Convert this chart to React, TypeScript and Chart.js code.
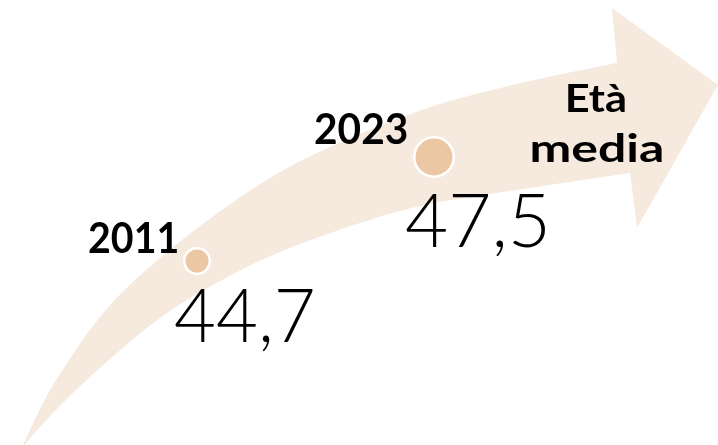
import { useEffect, useRef } from "react";
import { Chart, registerables } from "chart.js";

Chart.register(...registerables);

// ---- data ----
const years = [2011, 2023];
const averageAge = [44.7, 47.5];
const yearLabels = ["2011", "2023"];
const valueLabels = ["44,7", "47,5"];
const titleLines = ["Età", "media"];

// ---- styles / layout ----
const ARROW_COLOR = "#F6EADF";
const DOT_COLOR = "#EBC8A3";
const DOT_RADII = [12.75, 19.75];
const X_RANGE = { min: 2001.025, max: 2037.379 };
const Y_RANGE = { min: 39.746, max: 51.727 };

// label placement relative to each point: [dxLeft, dyBaseline, inkWidth]
const YEAR_LABEL_LAYOUT = [
  [-108, -8, 88],
  [-119, -13, 92],
];
const VALUE_LABEL_LAYOUT = [
  [-22, 81, 138],
  [-28, 90, 139],
];
// title lines: [left, baseline, inkWidth]
const TITLE_LAYOUT = [
  [568, 112, 57],
  [532, 162, 130],
];

// decorative arrow outline (pixels)
const ARROW_UPPER: [number, number][] = [
  [22, 447], [43, 403], [67, 363], [100, 317], [135, 280], [200, 226],
  [280, 172], [360, 134], [440, 104], [530, 81], [617, 63],
];
const ARROW_HEAD: [number, number][] = [
  [612, 8], [718, 85], [637, 228], [630, 173],
];
const ARROW_LOWER: [number, number][] = [
  [630, 173], [530, 188], [430, 204], [360, 223], [280, 252], [222, 280],
  [167, 313], [117, 353], [73, 393], [40, 427], [23, 447],
];

function smoothThrough(ctx: CanvasRenderingContext2D, pts: [number, number][]) {
  for (let i = 0; i < pts.length - 1; i++) {
    const p0 = pts[Math.max(0, i - 1)];
    const p1 = pts[i];
    const p2 = pts[i + 1];
    const p3 = pts[Math.min(pts.length - 1, i + 2)];
    const c1x = p1[0] + (p2[0] - p0[0]) / 6;
    const c1y = p1[1] + (p2[1] - p0[1]) / 6;
    const c2x = p2[0] - (p3[0] - p1[0]) / 6;
    const c2y = p2[1] - (p3[1] - p1[1]) / 6;
    ctx.bezierCurveTo(c1x, c1y, c2x, c2y, p2[0], p2[1]);
  }
}

function drawInk(
  ctx: CanvasRenderingContext2D,
  text: string,
  font: string,
  left: number,
  baseline: number,
  width: number
) {
  ctx.save();
  ctx.font = font;
  ctx.textAlign = "left";
  ctx.textBaseline = "alphabetic";
  const m = ctx.measureText(text);
  const inkW = m.actualBoundingBoxLeft + m.actualBoundingBoxRight;
  const sx = inkW > 0 ? width / inkW : 1;
  ctx.translate(left, baseline);
  ctx.scale(sx, 1);
  ctx.fillStyle = "#000000";
  ctx.fillText(text, m.actualBoundingBoxLeft, 0);
  ctx.restore();
}

const infographicPlugin = {
  id: "infographic",
  beforeDatasetsDraw(chart: any) {
    const ctx: CanvasRenderingContext2D = chart.ctx;
    ctx.save();
    ctx.beginPath();
    ctx.moveTo(ARROW_UPPER[0][0], ARROW_UPPER[0][1]);
    smoothThrough(ctx, ARROW_UPPER);
    ARROW_HEAD.forEach((p) => ctx.lineTo(p[0], p[1]));
    smoothThrough(ctx, ARROW_LOWER);
    ctx.closePath();
    ctx.fillStyle = ARROW_COLOR;
    ctx.fill();
    ctx.restore();

    TITLE_LAYOUT.forEach((l, i) => {
      drawInk(ctx, titleLines[i], "bold 39px Lato", l[0], l[1], l[2]);
    });
  },
  afterDatasetsDraw(chart: any) {
    const ctx: CanvasRenderingContext2D = chart.ctx;
    const meta = chart.getDatasetMeta(0);
    meta.data.forEach((pt: any, i: number) => {
      const yl = YEAR_LABEL_LAYOUT[i];
      drawInk(ctx, yearLabels[i], "bold 42px Lato", pt.x + yl[0], pt.y + yl[1], yl[2]);
      const vl = VALUE_LABEL_LAYOUT[i];
      drawInk(ctx, valueLabels[i], "300 74px Lato", pt.x + vl[0], pt.y + vl[1], vl[2]);
    });
  },
};

export default function App() {
  const canvasRef = useRef<HTMLCanvasElement | null>(null);

  useEffect(() => {
    document.body.style.margin = "0";
    const canvas = canvasRef.current;
    if (!canvas) return;
    const chart = new Chart(canvas, {
      type: "scatter",
      data: {
        datasets: [
          {
            label: "Età media",
            data: years.map((y, i) => ({ x: y, y: averageAge[i] })),
            pointRadius: DOT_RADII,
            pointHoverRadius: DOT_RADII,
            pointBackgroundColor: DOT_COLOR,
            pointBorderColor: "#FFFFFF",
            pointBorderWidth: 2.5,
            showLine: false,
            clip: false,
          },
        ],
      },
      options: {
        animation: false,
        responsive: true,
        maintainAspectRatio: false,
        layout: { padding: 0, autoPadding: false },
        events: [],
        plugins: {
          legend: { display: false },
          tooltip: { enabled: false },
        },
        scales: {
          x: { type: "linear", display: false, min: X_RANGE.min, max: X_RANGE.max },
          y: { type: "linear", display: false, min: Y_RANGE.min, max: Y_RANGE.max },
        },
      },
      plugins: [infographicPlugin],
    });
    return () => chart.destroy();
  }, []);

  return (
    <div style={{ position: "absolute", left: 0, top: 0, width: 718, height: 445, background: "#FFFFFF" }}>
      <canvas ref={canvasRef} />
    </div>
  );
}
